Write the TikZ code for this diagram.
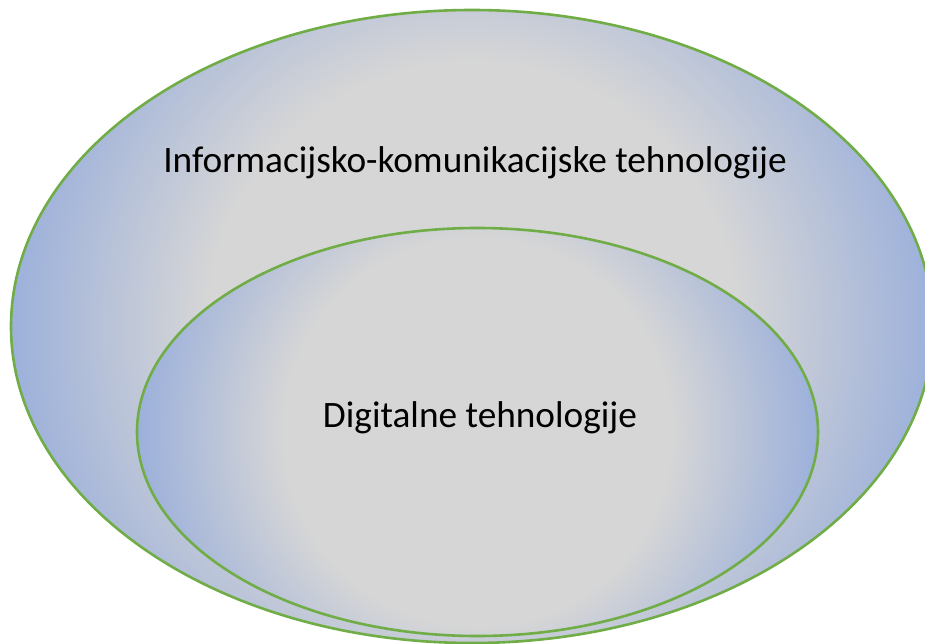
\documentclass[tikz,border=0pt]{standalone}
\usepackage{fontspec}
\setmainfont{Carlito}
\usetikzlibrary{shapes.geometric,calc}
\definecolor{cgray}{HTML}{D6D6D6}
\definecolor{cblue}{HTML}{9AAFDB}
\definecolor{cgreen}{HTML}{70AD47}
\pgfdeclareradialshading{officerad}{\pgfpoint{0bp}{0bp}}{color(0bp)=(cgray); color(14bp)=(cgray); color(25bp)=(cblue); color(50bp)=(cblue)}
\tikzset{
  setellipse/.style n args={3}{ellipse, inner sep=0pt, outer sep=0pt,
    minimum width=#1, minimum height=#2, draw=cgreen, line width=2.6pt,
    path picture={\shade[shading=officerad]
      ($(path picture bounding box.center)+(-#3,-#3)$) rectangle
      ($(path picture bounding box.center)+(#3,#3)$);}},
  label text/.style={font=\fontsize{37.3}{44}\selectfont, text=black, inner sep=0pt}
}
\begin{document}
\begin{tikzpicture}[x=1pt,y=-1pt]
\useasboundingbox (0,0) rectangle (925,644);
\clip (0,0) rectangle (925,644);
\node[setellipse={922pt}{633pt}{470pt}] (outer) at (472,326.5) {};
\node[setellipse={681pt}{408pt}{345pt}] (inner) at (477.5,432) {};
\node[label text] (outerlabel) at (475,163) {Informacijsko-komunikacijske tehnologije};
\node[label text] (innerlabel) at (480,418) {Digitalne tehnologije};
\end{tikzpicture}
\end{document}
